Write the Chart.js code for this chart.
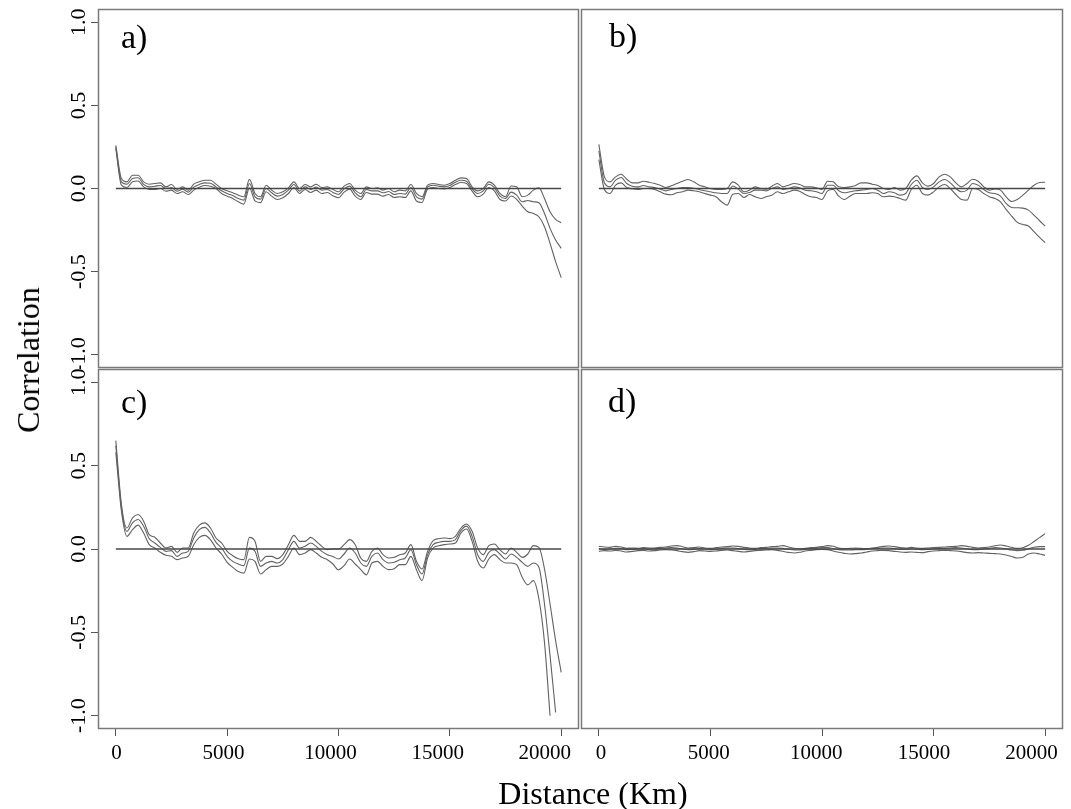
<!DOCTYPE html>
<html>
<head>
<meta charset="utf-8">
<script src="https://cdn.jsdelivr.net/npm/chart.js@4/dist/chart.umd.min.js"></script>
<style>
    body { margin: 0; background: #fff; }
    #fig { position: relative; width: 1071px; height: 809px; overflow: hidden;
           font-family: "Liberation Serif", "Times New Roman", serif; color: #000; }
    #fig canvas { position: absolute; }
    .tag { position: absolute; font-size: 34px; line-height: 1; white-space: nowrap; }
    .title { position: absolute; font-size: 32px; line-height: 1; white-space: nowrap;
             transform: translate(-50%, -50%); }
</style>
</head>
<body>
<div id="fig">
    <canvas id="panelA" width="580" height="369" style="left:0px;top:0px"></canvas>
    <canvas id="panelB" width="491" height="369" style="left:580px;top:0px"></canvas>
    <canvas id="panelC" width="580" height="449" style="left:0px;top:360px"></canvas>
    <canvas id="panelD" width="491" height="449" style="left:580px;top:360px"></canvas>

    <div class="tag" style="left:121px;top:20px">a)</div>
    <div class="tag" style="left:609px;top:19px">b)</div>
    <div class="tag" style="left:121px;top:385px">c)</div>
    <div class="tag" style="left:608px;top:384px">d)</div>

    <div class="title" style="left:28px;top:360px;transform:translate(-50%,-50%) rotate(-90deg)">Correlation</div>
    <div class="title" style="left:593px;top:793px">Distance (Km)</div>
</div>

<script>
// distance classes (km)
const dist = [
    0, 250, 500, 750, 1000, 1250, 1500, 1750, 2000, 2250,
    2500, 2750, 3000, 3250, 3500, 3750, 4000, 4250, 4500, 4750,
    5000, 5250, 5500, 5750, 6000, 6250, 6500, 6750, 7000, 7250,
    7500, 7750, 8000, 8250, 8500, 8750, 9000, 9250, 9500, 9750,
    10000, 10250, 10500, 10750, 11000, 11250, 11500, 11750, 12000, 12250,
    12500, 12750, 13000, 13250, 13500, 13750, 14000, 14250, 14500, 14750,
    15000, 15250, 15500, 15750, 16000, 16250, 16500, 16750, 17000, 17250,
    17500, 17750, 18000, 18250, 18500, 18750, 19000, 19250, 19500, 19750,
    20000
];

const xTicks = [0, 5000, 10000, 15000, 20000];
const yTicks = [-1, -0.5, 0, 0.5, 1];
const zeroX = [0, 20000];
const zeroY = [0, 0];

// a) upper / middle / lower
const aHi = [
    0.26, 0.06, 0.04, 0.08, 0.08, 0.04, 0.026, 0.03, 0.034, 0.01,
    0.024, -0.006, 0.01, -0.01, 0.026, 0.04, 0.05, 0.05, 0.026, 0.0,
    -0.014, -0.026, -0.04, -0.05, 0.055, -0.03, -0.05, 0.02, -0.01, -0.03,
    -0.02, 0.004, 0.04, 0.0, 0.024, 0.01, 0.026, 0.006, 0.01, -0.006,
    -0.02, 0.014, 0.03, -0.01, -0.03, 0.01, 0.0, 0.004, -0.01, 0.0,
    -0.02, -0.01, -0.014, 0.024, -0.03, -0.05, 0.02, 0.03, 0.024, 0.02,
    0.03, 0.05, 0.064, 0.06, 0.01, -0.014, 0.0, 0.04, 0.02, -0.03,
    -0.05, 0.015, 0.01, -0.05, -0.04, -0.01, 0.004, -0.06, -0.14, -0.186,
    -0.206
];
const aMid = [
    0.25, 0.04, 0.026, 0.06, 0.065, 0.025, 0.01, 0.014, 0.018, 0.0,
    0.006, -0.016, -0.004, -0.022, 0.008, 0.024, 0.034, 0.032, 0.01, -0.014,
    -0.03, -0.042, -0.06, -0.07, 0.03, -0.05, -0.064, 0.0, -0.026, -0.046,
    -0.036, -0.01, 0.024, -0.016, 0.01, -0.006, 0.008, -0.01, -0.006, -0.024,
    -0.036, -0.002, 0.014, -0.026, -0.05, -0.006, -0.014, -0.014, -0.026, -0.018,
    -0.036, -0.03, -0.034, 0.006, -0.05, -0.064, 0.01, 0.02, 0.014, 0.01,
    0.018, 0.038, 0.05, 0.044, -0.002, -0.03, -0.014, 0.026, 0.006, -0.046,
    -0.06, -0.022, -0.04, -0.08, -0.072, -0.08, -0.086, -0.15, -0.24, -0.31,
    -0.36
];
const aLo = [
    0.24, 0.02, 0.006, 0.04, 0.045, 0.01, -0.006, -0.006, 0.0, -0.016,
    -0.01, -0.03, -0.02, -0.036, -0.01, 0.008, 0.018, 0.014, 0.0, -0.03,
    -0.046, -0.06, -0.08, -0.094, 0.004, -0.075, -0.085, -0.02, -0.046, -0.066,
    -0.056, -0.03, 0.006, -0.03, -0.006, -0.024, -0.01, -0.03, -0.024, -0.044,
    -0.056, -0.022, -0.004, -0.046, -0.066, -0.024, -0.034, -0.034, -0.046, -0.036,
    -0.054, -0.05, -0.054, -0.014, -0.075, -0.084, -0.004, 0.006, 0.0, -0.002,
    0.006, 0.024, 0.036, 0.03, -0.016, -0.05, -0.034, 0.006, -0.014, -0.066,
    -0.075, -0.045, -0.065, -0.106, -0.14, -0.15, -0.17, -0.23, -0.33, -0.44,
    -0.536
];

// b)
const bHi = [
    0.266, 0.07, 0.04, 0.07, 0.086, 0.056, 0.034, 0.034, 0.044, 0.038,
    0.03, 0.02, 0.006, 0.016, 0.03, 0.044, 0.054, 0.04, 0.02, 0.01,
    0.0, -0.006, -0.006, 0.0, 0.04, 0.02, -0.02, -0.01, 0.01, 0.0,
    -0.004, 0.014, 0.03, 0.01, 0.02, 0.03, 0.024, 0.01, 0.01, 0.004,
    -0.006, 0.044, 0.04, 0.01, 0.006, 0.01, 0.018, 0.034, 0.034, 0.026,
    0.018, 0.0, -0.006, 0.006, -0.01, 0.0, 0.05, 0.076, 0.034, 0.014,
    0.03, 0.07, 0.086, 0.07, 0.034, 0.01, 0.03, 0.056, 0.044, 0.01,
    -0.01, -0.002, -0.01, -0.05, -0.078, -0.066, -0.04, -0.01, 0.02, 0.036,
    0.038
];
const bMid = [
    0.226, 0.034, 0.01, 0.05, 0.066, 0.03, 0.014, 0.01, 0.018, 0.01,
    0.006, -0.004, -0.014, -0.006, 0.0, 0.006, 0.006, 0.002, -0.006, -0.014,
    -0.02, -0.026, -0.03, -0.03, 0.015, -0.004, -0.03, -0.024, -0.01, -0.01,
    -0.014, 0.0, 0.01, -0.006, 0.0, 0.01, 0.004, -0.01, -0.014, -0.02,
    -0.03, 0.02, 0.02, -0.014, -0.026, -0.02, -0.014, -0.01, -0.006, 0.0,
    -0.01, -0.03, -0.02, -0.026, -0.04, -0.03, 0.024, 0.05, 0.006, -0.006,
    0.01, 0.04, 0.054, 0.034, 0.0, -0.02, -0.01, 0.03, 0.02, -0.006,
    -0.026, -0.03, -0.046, -0.09, -0.114, -0.116, -0.118, -0.13, -0.16, -0.194,
    -0.226
];
const bLo = [
    0.174, -0.006, -0.03, 0.02, 0.034, 0.006, -0.002, -0.006, 0.0, 0.0,
    -0.006, -0.02, -0.034, -0.038, -0.026, -0.02, -0.01, -0.014, -0.02, -0.03,
    -0.04, -0.05, -0.08, -0.1, -0.035, -0.03, -0.054, -0.036, -0.05, -0.06,
    -0.05, -0.04, -0.02, -0.03, -0.02, -0.01, -0.016, -0.036, -0.05, -0.054,
    -0.066, -0.014, -0.006, -0.046, -0.066, -0.046, -0.03, -0.03, -0.03, -0.026,
    -0.03, -0.05, -0.046, -0.05, -0.06, -0.07, -0.006, 0.02, -0.03, -0.04,
    -0.02, 0.01, 0.024, 0.0, -0.036, -0.066, -0.07, 0.0, -0.006, -0.03,
    -0.05, -0.06, -0.08, -0.126, -0.166, -0.204, -0.216, -0.226, -0.26, -0.294,
    -0.326
];

// c)
const cHi = [
    0.65, 0.27, 0.126, 0.187, 0.207, 0.167, 0.086, 0.07, 0.036, 0.006,
    0.016, -0.02, 0.006, 0.006, 0.096, 0.143, 0.157, 0.126, 0.066, 0.036,
    -0.014, -0.04, -0.058, -0.064, 0.07, 0.046, -0.074, -0.044, -0.044, -0.058,
    -0.034, 0.026, 0.082, 0.046, 0.046, 0.07, 0.046, 0.016, -0.004, 0.0,
    0.0, 0.026, 0.056, 0.026, -0.054, -0.074, -0.014, 0.006, -0.034, -0.054,
    -0.05, -0.034, -0.024, 0.026, -0.074, -0.12, -0.014, 0.05, 0.062, 0.066,
    0.062, 0.076, 0.126, 0.15, 0.106, 0.006, -0.034, 0.02, 0.03, -0.005,
    -0.03, 0.006, -0.02, -0.05, -0.03, 0.02, 0.01, -0.12, -0.33, -0.55,
    -0.74
];
const cMid = [
    0.62, 0.25, 0.106, 0.157, 0.177, 0.137, 0.062, 0.036, 0.01, -0.014,
    -0.01, -0.044, -0.024, -0.014, 0.066, 0.116, 0.13, 0.096, 0.04, 0.006,
    -0.044, -0.074, -0.09, -0.1, 0.005, -0.014, -0.104, -0.084, -0.074, -0.084,
    -0.064, -0.004, 0.046, 0.006, 0.016, 0.036, 0.016, -0.014, -0.034, -0.045,
    -0.06, -0.03, 0.006, -0.024, -0.084, -0.104, -0.044, -0.024, -0.064, -0.084,
    -0.08, -0.064, -0.054, -0.004, -0.094, -0.15, -0.034, 0.026, 0.04, 0.046,
    0.046, 0.056, 0.112, 0.137, 0.076, -0.034, -0.074, -0.02, -0.004, -0.03,
    -0.06, -0.03, -0.05, -0.08, -0.104, -0.084, -0.11, -0.33, -0.64, -0.98,
    null
];
const cLo = [
    0.58, 0.23, 0.076, 0.116, 0.143, 0.096, 0.026, 0.006, -0.02, -0.038,
    -0.044, -0.064, -0.054, -0.044, 0.026, 0.07, 0.082, 0.056, 0.006, -0.03,
    -0.08, -0.11, -0.135, -0.145, -0.06, -0.074, -0.15, -0.124, -0.104, -0.104,
    -0.09, -0.044, 0.006, -0.034, -0.024, -0.004, -0.024, -0.05, -0.064, -0.09,
    -0.125, -0.1, -0.06, -0.09, -0.124, -0.155, -0.084, -0.074, -0.104, -0.124,
    -0.118, -0.094, -0.094, -0.044, -0.124, -0.19, -0.054, 0.006, 0.02, 0.026,
    0.03, 0.036, 0.096, 0.12, 0.046, -0.074, -0.114, -0.06, -0.034, -0.064,
    -0.084, -0.084, -0.094, -0.17, -0.215, -0.19, -0.3, -0.56, -1.0, null,
    null
];

// d)
const dHi = [
    0.016, 0.012, 0.01, 0.016, 0.012, 0.004, 0.006, 0.004, 0.008, 0.006,
    0.006, 0.01, 0.012, 0.018, 0.02, 0.014, 0.006, 0.008, 0.012, 0.006,
    0.004, 0.008, 0.012, 0.014, 0.018, 0.016, 0.01, 0.006, 0.004, 0.008,
    0.01, 0.014, 0.016, 0.02, 0.012, 0.004, 0.0, 0.004, 0.008, 0.01,
    0.014, 0.02, 0.016, 0.006, 0.002, 0.004, 0.006, 0.004, 0.002, 0.006,
    0.01, 0.016, 0.018, 0.014, 0.008, 0.006, 0.01, 0.006, 0.004, 0.006,
    0.008, 0.01, 0.012, 0.014, 0.016, 0.02, 0.016, 0.01, 0.006, 0.008,
    0.012, 0.02, 0.024, 0.018, 0.01, 0.004, 0.008, 0.022, 0.045, 0.068,
    0.092
];
const dMid = [
    0.002, -0.002, 0.0, 0.004, 0.002, -0.004, -0.002, 0.0, 0.002, -0.002,
    0.0, 0.004, 0.006, 0.008, 0.006, 0.0, -0.004, -0.002, 0.002, 0.0,
    -0.004, -0.002, 0.004, 0.006, 0.006, 0.002, -0.002, -0.004, -0.002, 0.002,
    0.004, 0.006, 0.006, 0.004, -0.002, -0.006, -0.006, -0.002, 0.002, 0.004,
    0.008, 0.008, 0.002, -0.004, -0.006, -0.006, -0.004, -0.004, -0.002, 0.002,
    0.004, 0.006, 0.006, 0.002, -0.002, -0.002, 0.0, -0.002, -0.004, -0.002,
    0.0, 0.002, 0.004, 0.006, 0.008, 0.006, 0.0, -0.004, -0.004, 0.0,
    0.004, 0.008, 0.006, 0.0, -0.006, -0.01, -0.008, 0.002, 0.01, 0.014,
    0.014
];
const dLo = [
    -0.014, -0.01, -0.012, -0.008, -0.012, -0.018, -0.014, -0.01, -0.008, -0.012,
    -0.01, -0.006, -0.004, -0.006, -0.01, -0.016, -0.02, -0.016, -0.01, -0.012,
    -0.014, -0.012, -0.008, -0.006, -0.01, -0.014, -0.018, -0.014, -0.01, -0.008,
    -0.006, -0.004, -0.008, -0.014, -0.02, -0.024, -0.02, -0.012, -0.008, -0.004,
    -0.002, -0.004, -0.012, -0.02, -0.026, -0.03, -0.028, -0.024, -0.018, -0.012,
    -0.01, -0.008, -0.01, -0.014, -0.018, -0.02, -0.018, -0.02, -0.022, -0.016,
    -0.012, -0.01, -0.008, -0.01, -0.012, -0.016, -0.022, -0.024, -0.022, -0.024,
    -0.026, -0.028, -0.03, -0.036, -0.045, -0.054, -0.05, -0.03, -0.024, -0.03,
    -0.038
];

// box around each plotting region
const frame = {
    id: 'frame',
    afterDatasetsDraw(chart) {
        const { ctx, chartArea: a } = chart;
        ctx.save();
        ctx.strokeStyle = '#7a7a7a';
        ctx.lineWidth = 1.5;
        ctx.strokeRect(a.left + 0.5, a.top + 0.5, a.right - a.left - 1, a.bottom - a.top - 1);
        ctx.restore();
    }
};

function toPoints(xs, ys) {
    return xs.map((x, i) => ({ x: x, y: ys[i] }));
}

function curve(ys) {
    return {
        data: toPoints(dist, ys),
        borderColor: '#626262',
        borderWidth: 1.1,
        pointRadius: 0,
        cubicInterpolationMode: 'monotone',
        spanGaps: false
    };
}

function fixSize(prop, size) {
    return s => {
        if (!s.options.display) return;
        s[prop] = size;
        s.paddingLeft = 0; s.paddingRight = 0;
        s.paddingTop = 0; s.paddingBottom = 0;
    };
}

function makePanel(id, hi, mid, lo, opt) {
    return new Chart(document.getElementById(id), {
        type: 'line',
        data: {
            datasets: [
                {
                    data: toPoints(zeroX, zeroY),
                    borderColor: '#474747',
                    borderWidth: 1.3,
                    pointRadius: 0
                },
                curve(hi),
                curve(mid),
                curve(lo)
            ]
        },
        options: {
            responsive: false,
            animation: false,
            events: [],
            layout: { padding: opt.padding },
            plugins: {
                legend: { display: false },
                tooltip: { enabled: false }
            },
            scales: {
                x: {
                    type: 'linear',
                    position: 'bottom',
                    weight: 0,
                    min: -800,
                    max: 20800,
                    display: opt.showX,
                    afterBuildTicks: s => { s.ticks = xTicks.map(v => ({ value: v })); },
                    afterFit: fixSize('height', 8),
                    ticks: { display: false },
                    grid: { drawOnChartArea: false, drawTicks: true, tickLength: 7, color: '#555' },
                    border: { display: false }
                },
                // label row of the distance axis (labels sit slightly tighter than the ticks)
                xLab: {
                    type: 'linear',
                    position: 'bottom',
                    axis: 'x',
                    weight: 1,
                    min: opt.labMin,
                    max: opt.labMax,
                    display: opt.showX,
                    afterBuildTicks: s => { s.ticks = xTicks.map(v => ({ value: v })); },
                    afterFit: fixSize('height', 72),
                    ticks: {
                        font: { family: 'Liberation Serif', size: 21 },
                        color: '#000',
                        padding: 4,
                        maxRotation: 0,
                        autoSkip: false,
                        callback: v => String(v)
                    },
                    grid: { display: false, drawTicks: false },
                    border: { display: false }
                },
                y: {
                    type: 'linear',
                    min: -1.08,
                    max: 1.08,
                    display: opt.showY,
                    afterBuildTicks: s => { s.ticks = yTicks.map(v => ({ value: v })); },
                    afterFit: fixSize('width', 98),
                    ticks: {
                        font: { family: 'Liberation Serif', size: 22 },
                        color: '#000',
                        minRotation: 90,
                        maxRotation: 90,
                        crossAlign: 'center',
                        padding: -6,
                        callback: v => v.toFixed(1)
                    },
                    grid: { drawOnChartArea: false, drawTicks: true, tickLength: 7, color: '#555' },
                    border: { display: false }
                }
            }
        },
        plugins: [frame]
    });
}

makePanel('panelA', aHi, aMid, aLo, { showX: false, showY: true, labMin: -800, labMax: 20800,
    padding: { top: 9, right: 1, bottom: 1, left: 0 } });
makePanel('panelB', bHi, bMid, bLo, { showX: false, showY: false, labMin: -800, labMax: 20800,
    padding: { top: 9, right: 8, bottom: 1, left: 1 } });
makePanel('panelC', cHi, cMid, cLo, { showX: true, showY: true, labMin: -864, labMax: 21602,
    padding: { top: 9, right: 1, bottom: 0, left: 0 } });
makePanel('panelD', dHi, dMid, dLo, { showX: true, showY: false, labMin: -929, labMax: 21458,
    padding: { top: 9, right: 8, bottom: 0, left: 1 } });
</script>
</body>
</html>
